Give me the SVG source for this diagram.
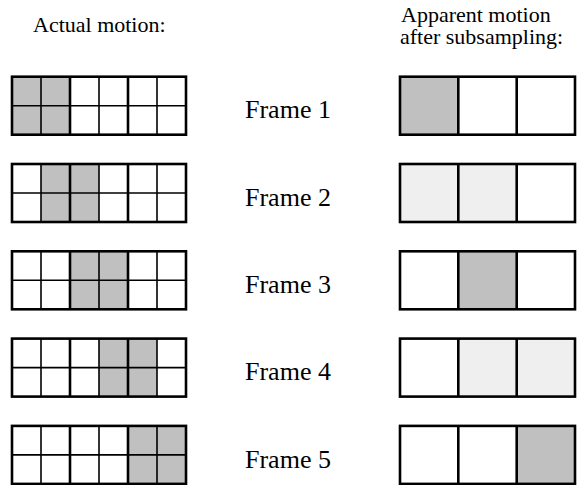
<svg xmlns="http://www.w3.org/2000/svg" width="581" height="485" viewBox="0 0 581 485">
  <style>
    text { font-family: "Liberation Serif", "Times New Roman", serif; fill: #000; }
    .head { font-size: 22px; }
    .label { font-size: 26px; }
    .thick { fill: none; stroke: #000; stroke-width: 2.6; }
    .thin { fill: none; stroke: #000; stroke-width: 1.6; }
    .dark { fill: #c0c0c0; }
    .light { fill: #efefef; }
  </style>
  <defs>
    <!-- 6x2 grid of 29px cells: outline and every second divider heavy -->
    <g id="fine-grid">
      <line class="thin" x1="29" y1="0" x2="29" y2="58"/>
      <line class="thin" x1="87" y1="0" x2="87" y2="58"/>
      <line class="thin" x1="145" y1="0" x2="145" y2="58"/>
      <line class="thin" x1="0" y1="29" x2="174" y2="29"/>
      <line class="thick" x1="58" y1="0" x2="58" y2="58"/>
      <line class="thick" x1="116" y1="0" x2="116" y2="58"/>
      <rect class="thick" x="0" y="0" width="174" height="58"/>
    </g>
    <!-- 3x1 strip of 58px cells -->
    <g id="coarse-grid">
      <line class="thick" x1="58.3" y1="0" x2="58.3" y2="58"/>
      <line class="thick" x1="116.7" y1="0" x2="116.7" y2="58"/>
      <rect class="thick" x="0" y="0" width="175" height="58"/>
    </g>
  </defs>

  <rect width="581" height="485" fill="#fff"/>

  <g id="headers">
    <text class="head" x="33" y="31.5">Actual motion:</text>
    <text class="head" x="401" y="21.5">Apparent motion</text>
    <text class="head" x="400" y="43.5">after subsampling:</text>
  </g>

  <!-- Frame 1 -->
  <g id="frame1">
    <g transform="translate(12,76.7)">
      <rect class="dark" x="0" y="0" width="58" height="58"/>
      <use href="#fine-grid"/>
    </g>
    <text class="label" x="245" y="118.3">Frame 1</text>
    <g transform="translate(400,76.7)">
      <rect class="dark" x="0" y="0" width="58.3" height="58"/>
      <use href="#coarse-grid"/>
    </g>
  </g>

  <!-- Frame 2 -->
  <g id="frame2">
    <g transform="translate(12,164)">
      <rect class="dark" x="29" y="0" width="58" height="58"/>
      <use href="#fine-grid"/>
    </g>
    <text class="label" x="245" y="205.6">Frame 2</text>
    <g transform="translate(400,164)">
      <rect class="light" x="0" y="0" width="116.7" height="58"/>
      <use href="#coarse-grid"/>
    </g>
  </g>

  <!-- Frame 3 -->
  <g id="frame3">
    <g transform="translate(12,251.3)">
      <rect class="dark" x="58" y="0" width="58" height="58"/>
      <use href="#fine-grid"/>
    </g>
    <text class="label" x="245" y="292.9">Frame 3</text>
    <g transform="translate(400,251.3)">
      <rect class="dark" x="58.3" y="0" width="58.4" height="58"/>
      <use href="#coarse-grid"/>
    </g>
  </g>

  <!-- Frame 4 -->
  <g id="frame4">
    <g transform="translate(12,338.6)">
      <rect class="dark" x="87" y="0" width="58" height="58"/>
      <use href="#fine-grid"/>
    </g>
    <text class="label" x="245" y="380.2">Frame 4</text>
    <g transform="translate(400,338.6)">
      <rect class="light" x="58.3" y="0" width="116.7" height="58"/>
      <use href="#coarse-grid"/>
    </g>
  </g>

  <!-- Frame 5 -->
  <g id="frame5">
    <g transform="translate(12,425.9)">
      <rect class="dark" x="116" y="0" width="58" height="58"/>
      <use href="#fine-grid"/>
    </g>
    <text class="label" x="245" y="467.5">Frame 5</text>
    <g transform="translate(400,425.9)">
      <rect class="dark" x="116.7" y="0" width="58.3" height="58"/>
      <use href="#coarse-grid"/>
    </g>
  </g>

  <g id="connectors"/>
</svg>
